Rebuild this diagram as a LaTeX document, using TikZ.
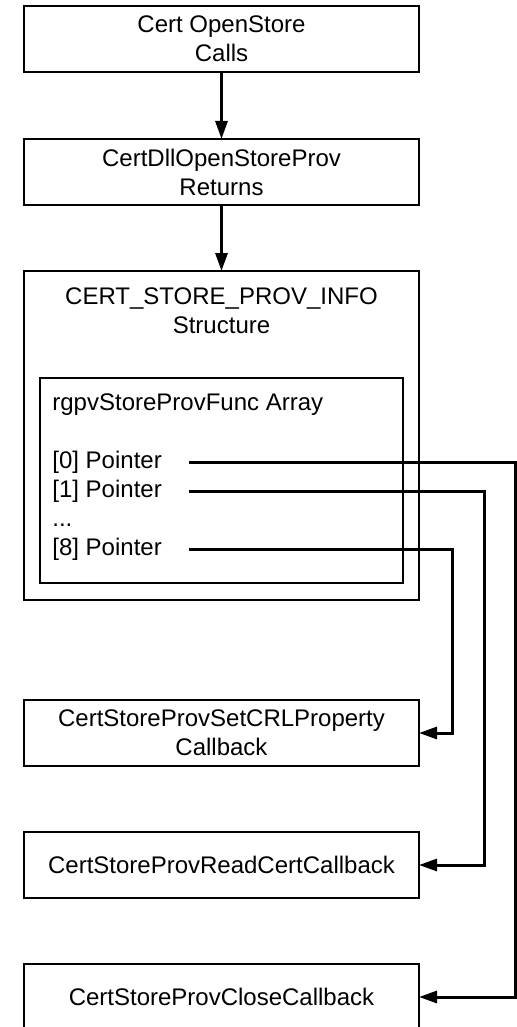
\documentclass[tikz,border=0pt]{standalone}
\usepackage{fontspec}
\setmainfont{Liberation Sans}
\usepackage{tikz}
\usetikzlibrary{arrows.meta, positioning, calc}
\tikzset{
  block/.style={draw=black, line width=0.8pt, rectangle, align=center, font=\fontsize{12}{14.5}\selectfont, minimum width=197.5pt, minimum height=33pt, inner sep=0pt, outer sep=0pt},
  frame/.style={draw=black, line width=0.8pt, rectangle, inner sep=0pt, outer sep=0pt},
  title/.style={font=\fontsize{12}{14.5}\selectfont, align=center, inner sep=0pt},
  row/.style={font=\fontsize{12}{14.5}\selectfont, inner sep=0pt, anchor=west, text height=9pt, text depth=2.5pt},
  arrow/.style={draw=black, line width=1.5pt, -{Triangle[length=9pt, width=6pt]}}
}

\begin{document}
\begin{tikzpicture}[node distance=33pt]
  \useasboundingbox (0,0) rectangle (258pt,-513.5pt);

  % call chain
  \node [block] (c) at (110.75pt,-19.5pt) {Cert OpenStore\\Calls};
  \node [block, below=33.5pt of c] (r) {CertDllOpenStoreProv\\Returns};
  \node [block, below=33pt of r, minimum height=164.5pt] (i) {};
  \node [title] (it) at ([yshift=-20pt]i.north) {CERT\_STORE\_PROV\_INFO\\Structure};

  % function array
  \node [frame, minimum width=181.5pt, minimum height=102.5pt, above=8.5pt of i.south] (a) {};
  \node [row] (an) at ([xshift=6pt, yshift=-13pt]a.north west) {rgpvStoreProvFunc Array};
  \node [row, below=29pt of an.west, anchor=west] (p0) {[0] Pointer};
  \node [row, below=14.5pt of p0.west, anchor=west] (p1) {[1] Pointer};
  \node [row, below=14.5pt of p1.west, anchor=west] (pd) {...};
  \node [row, below=14.5pt of pd.west, anchor=west] (p8) {[8] Pointer};

  % callbacks
  \node [block, below=50pt of i] (crl) {CertStoreProvSetCRLProperty\\Callback};
  \node [block, below=33pt of crl] (rd) {CertStoreProvReadCertCallback};
  \node [block, below=33pt of rd] (cl) {CertStoreProvCloseCallback};

  \draw [arrow] (c) -- (r);
  \draw [arrow] (r) -- (i);

  \draw [arrow] ([xshift=13.5pt]p8.east) -| ([xshift=16.5pt]crl.east) -- (crl.east);
  \draw [arrow] ([xshift=13.5pt]p1.east) -| ([xshift=32.5pt]rd.east) -- (rd.east);
  \draw [arrow] ([xshift=13.5pt]p0.east) -| ([xshift=48pt]cl.east) -- (cl.east);
\end{tikzpicture}
\end{document}
